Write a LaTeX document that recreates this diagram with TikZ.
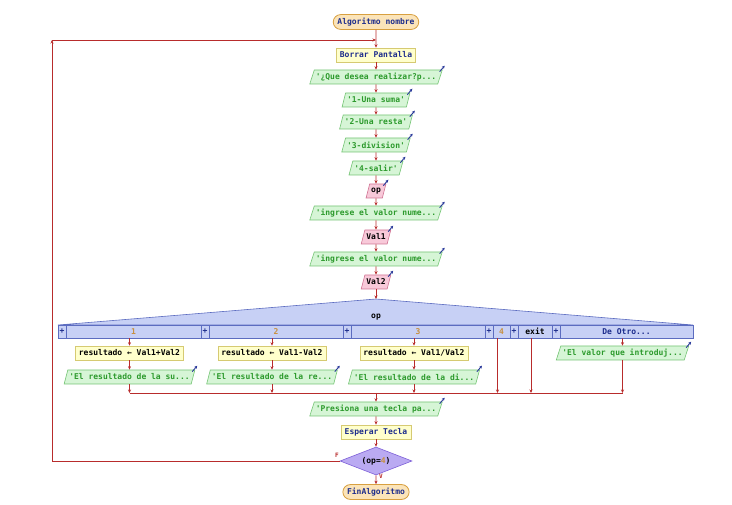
\documentclass[tikz,border=0pt]{standalone}
\usepackage{fontspec}
\setmonofont{DejaVu Sans Mono}
\usetikzlibrary{shapes.geometric,shapes.misc,arrows.meta}

\definecolor{flowred}{HTML}{B82C2C}
\definecolor{kwblue}{HTML}{1C2C8C}
\definecolor{strgreen}{HTML}{2C9A2C}
\definecolor{numcol}{HTML}{C89040}
\definecolor{termfill}{HTML}{FBE4B9}
\definecolor{termline}{HTML}{D8A040}
\definecolor{procfill}{HTML}{FFFFCC}
\definecolor{procline}{HTML}{D6CA72}
\definecolor{outfill}{HTML}{D6F5D6}
\definecolor{outline}{HTML}{74C474}
\definecolor{infill}{HTML}{F8C9D9}
\definecolor{inline}{HTML}{D07494}
\definecolor{swfill}{HTML}{C7D0F5}
\definecolor{swline}{HTML}{5C6CC0}
\definecolor{decfill}{HTML}{BAAAF2}
\definecolor{decline}{HTML}{7E60D8}
\definecolor{arrblue}{HTML}{2A3A9A}

\newcommand\deotrotxt{De Otro...}

\tikzset{
  flow/.style={draw=flowred, line width=0.6pt, -{Stealth[length=3.5pt,width=3pt]}},
  flowline/.style={draw=flowred, line width=0.6pt},
  termbox/.style={rounded rectangle, draw=termline, fill=termfill, line width=0.8pt,
    text=kwblue, minimum height=14pt, inner xsep=3pt},
  procbox/.style={rectangle, draw=procline, fill=procfill, line width=0.6pt,
    text=kwblue, minimum height=14pt, inner xsep=3.5pt, inner ysep=1pt},
  outbox/.style={trapezium, trapezium left angle=66, trapezium right angle=114,
    trapezium stretches body, draw=outline, fill=outfill, line width=0.6pt,
    text=strgreen, minimum height=14pt, inner xsep=1.5pt, inner ysep=1pt},
  inbox/.style={outbox, draw=inline, fill=infill, text=black},
  colcell/.style={rectangle, draw=swline, fill=swfill, line width=0.6pt,
    minimum height=13pt, inner sep=0pt},
  decbox/.style={diamond, aspect=2.6, draw=decline, fill=decfill, line width=0.6pt,
    minimum width=72pt, minimum height=28pt, inner sep=1pt},
  lbl/.style={text=flowred, font=\ttfamily\bfseries\fontsize{6}{7}\selectfont},
  cornerarrow/.style={draw=arrblue, line width=0.9pt, -{Stealth[length=3pt,width=3pt]}}
}

\begin{document}
\begin{tikzpicture}[x=1pt,y=-1pt,font=\ttfamily\bfseries\fontsize{8}{9}\selectfont]
\useasboundingbox (0,0) rectangle (732,505);

% main sequence
\node[termbox] (ini) at (376,22) {Algoritmo nombre};
\node[procbox] (borrar) at (376,55) {Borrar Pantalla};
\node[outbox] (o1) at (376,77) {'¿Que desea realizar?p...};
\node[outbox] (o2) at (376,100) {'1-Una suma'};
\node[outbox] (o3) at (376,122) {'2-Una resta'};
\node[outbox] (o4) at (376,145) {'3-division'};
\node[outbox] (o5) at (376,168) {'4-salir'};
\node[inbox] (r1) at (376,191) {op};
\node[outbox] (o6) at (376,213) {'ingrese el valor nume...};
\node[inbox] (r2) at (376,237) {Val1};
\node[outbox] (o7) at (376,259) {'ingrese el valor nume...};
\node[inbox] (r3) at (376,282) {Val2};

% segun
\coordinate (swtop) at (376,299);
\filldraw[fill=swfill, draw=swline, line width=0.6pt] (58,325) -- (swtop) -- (693,325) -- cycle;
\node (swop) at (376,317) {op};
\foreach \a/\b/\c/\lab/\i in {58/201/numcol/1/1, 201/343/numcol/2/2, 343/485/numcol/3/3,
    485/510/numcol/4/4, 510/552/black/exit/5, 552/693/kwblue/\deotrotxt/6}
{
  \pgfmathsetmacro\w{\b-\a}
  \node[colcell, minimum width=\w pt] (col\i) at ({(\a+\b)/2},331.5) {};
  \node[colcell, minimum width=8pt, text=kwblue] (pl\i) at ({\a+4},331.5) {+};
  \node[text=\c] (lb\i) at ({(\a+8+\b)/2},331.5) {\lab};
}

% cases
\node[procbox, text=black] (s1) at (129.5,353) {resultado ← Val1+Val2};
\node[procbox, text=black] (s2) at (272,353) {resultado ← Val1-Val2};
\node[procbox, text=black] (s3) at (414,353) {resultado ← Val1/Val2};
\node[outbox] (e1) at (129.5,377) {'El resultado de la su...};
\node[outbox] (e2) at (272,377) {'El resultado de la re...};
\node[outbox] (e3) at (414,377) {'El resultado de la di...};
\node[outbox] (e6) at (622.5,353) {'El valor que introduj...};

\coordinate (jm) at (376,393);
\foreach \i in {1,2,3,4,5,6}
  \coordinate (j\i) at (col\i.south |- jm);

% end part
\node[outbox] (o8) at (376,409) {'Presiona una tecla pa...};
\node[procbox] (esp) at (376,432) {Esperar Tecla};
\node[decbox] (dec) at (376,461) {(op=\textcolor{numcol}{4})};
\node[termbox] (fin) at (376,492) {FinAlgoritmo};
\node[lbl] (fl) at (337,455) {F};
\node[lbl] (vl) at (381,476) {V};

% connectors
\foreach \p/\q in {ini/borrar, borrar/o1, o1/o2, o2/o3, o3/o4, o4/o5, o5/r1,
    r1/o6, o6/r2, r2/o7, o7/r3, r3/swtop, o8/esp, esp/dec, dec/fin}
  \draw[flow] (\p) -- (\q);
\foreach \i in {1,2,3}
{
  \draw[flow] (col\i.south) -- (s\i);
  \draw[flow] (s\i) -- (e\i);
  \draw[flow] (e\i) -- (j\i);
}
\draw[flow] (col4.south) -- (j4);
\draw[flow] (col5.south) -- (j5);
\draw[flow] (col6.south) -- (e6);
\draw[flow] (e6) -- (j6);
\draw[flowline] (j1) -- (j6);
\draw[flow] (jm) -- (o8);

% loop back
\coordinate (lb) at (52,461);
\coordinate (lt) at (52,40);
\coordinate (lm) at (376,40);
\draw[flow] (dec.west) -- (lb) -- (lt);
\draw[flow] (lt) -- (lm);

% io markers
\foreach \n in {o1,o2,o3,o4,o5,r1,o6,r2,o7,r3,e1,e2,e3,e6,o8}
  \draw[cornerarrow] ([shift={(-3,2)}]\n.top right corner) -- ++(5,-6);
\end{tikzpicture}
\end{document}
